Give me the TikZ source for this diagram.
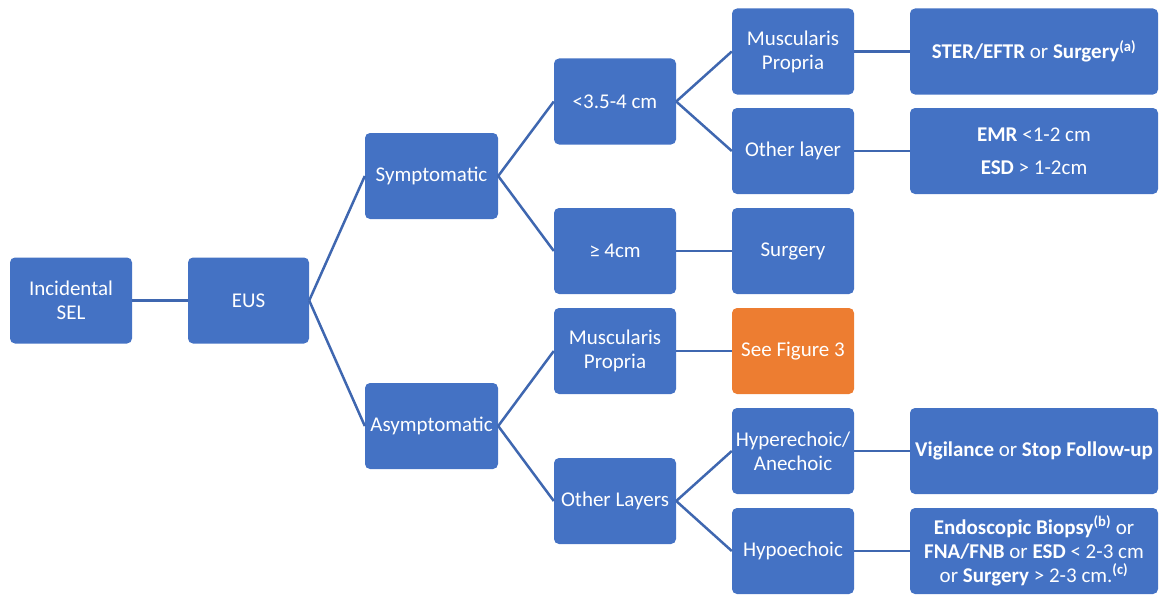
\documentclass[tikz,border=0pt]{standalone}
\usepackage{fontspec}
\setmainfont{Carlito}
\definecolor{boxblue}{HTML}{4472C4}
\definecolor{boxorange}{HTML}{ED7D31}
\definecolor{linkblue}{HTML}{3F67B0}
\tikzset{
  box/.style={draw=none, fill=boxblue, rounded corners=5pt, text=white, align=center,
    minimum height=86pt, inner sep=0pt, font=\fontsize{21}{24}\selectfont},
  w122/.style={minimum width=122pt},
  w133/.style={minimum width=133pt},
  w248/.style={minimum width=248pt},
  orangebox/.style={fill=boxorange},
  link/.style={draw=linkblue, line width=2.5pt},
}
\begin{document}
\begin{tikzpicture}[x=1pt, y=-1pt]
\useasboundingbox (0,0) rectangle (1161,594);
% column 0-2
\node[box,w122] (inc) at (71,300.5) {Incidental\\SEL};
\node[box,minimum width=121pt] (eus) at (248.5,300.5) {EUS};
\node[box,w133] (sym) at (431.5,176) {Symptomatic};
\node[box,w133] (asym) at (431.5,426) {Asymptomatic};
% column 3
\node[box,w122] (small) at (615,101.5) {<3.5-4 cm};
\node[box,w122] (big) at (615,251) {≥ 4cm};
\node[box,w122] (mpa) at (615,351) {Muscularis\\Propria};
\node[box,w122] (ola) at (615,501) {Other Layers};
% column 4
\node[box,w122] (mpt) at (793,51.5) {Muscularis\\Propria};
\node[box,w122] (olt) at (793,151) {Other layer};
\node[box,w122] (surg) at (793,251) {Surgery};
\node[box,w122,orangebox] (fig) at (793,351) {See Figure 3};
\node[box,w122] (hyper) at (793,451) {Hyperechoic/\\Anechoic};
\node[box,w122] (hypo) at (793,551) {Hypoechoic};
% column 5
\node[box,w248] (ster) at (1034,51.5) {\textbf{STER/EFTR} or \textbf{Surgery}\textsuperscript{\textbf{(a)}}};
\node[box,w248] (emr) at (1034,151) {\textbf{EMR} <1-2 cm\\[9pt]\textbf{ESD} > 1-2cm};
\node[box,w248] (vig) at (1034,451) {\textbf{Vigilance} or \textbf{Stop Follow-up}};
\node[box,w248] (endo) at (1034,551) {\textbf{Endoscopic Biopsy}\textsuperscript{\textbf{(b)}} or\\\textbf{FNA/FNB} or \textbf{ESD} < 2-3 cm\\or \textbf{Surgery} > 2-3 cm.\textsuperscript{\textbf{(c)}}};
% connectors
\draw[link] (inc.east) -- (eus.west);
\draw[link] (eus.east) -- (sym.west);
\draw[link] (eus.east) -- (asym.west);
\draw[link] (sym.east) -- (small.west);
\draw[link] (sym.east) -- (big.west);
\draw[link] (asym.east) -- (mpa.west);
\draw[link] (asym.east) -- (ola.west);
\draw[link] (small.east) -- (mpt.west);
\draw[link] (small.east) -- (olt.west);
\draw[link] (big.east) -- (surg.west);
\draw[link] (mpa.east) -- (fig.west);
\draw[link] (ola.east) -- (hyper.west);
\draw[link] (ola.east) -- (hypo.west);
\draw[link] (mpt.east) -- (ster.west);
\draw[link] (olt.east) -- (emr.west);
\draw[link] (hyper.east) -- (vig.west);
\draw[link] (hypo.east) -- (endo.west);
\end{tikzpicture}
\end{document}
